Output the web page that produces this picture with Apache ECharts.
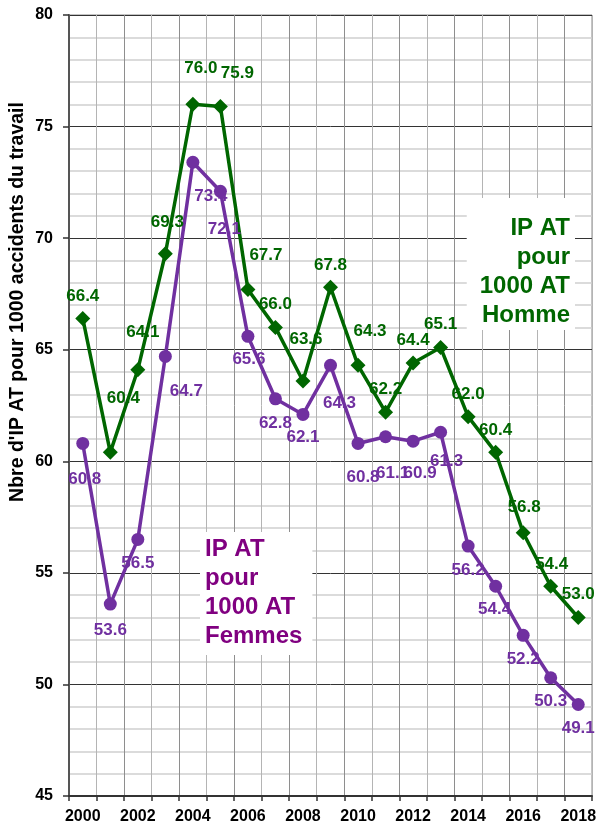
<!DOCTYPE html>
<html>
<head>
<meta charset="utf-8">
<title>IP AT pour 1000 AT</title>
<script src="https://cdn.jsdelivr.net/npm/echarts@6/dist/echarts.min.js"></script>
<style>
  html, body { margin: 0; padding: 0; background: #fff; }
  #mainChart { width: 601px; height: 826px; }
</style>
</head>
<body>
<div id="mainChart"></div>
<script>
// annees 2000 -> 2018
var years = ['2000', '2001', '2002', '2003', '2004', '2005', '2006', '2007', '2008', '2009',
  '2010', '2011', '2012', '2013', '2014', '2015', '2016', '2017', '2018'];
var hommeValues = [66.4, 60.4, 64.1, 69.3, 76.0, 75.9, 67.7, 66.0, 63.6, 67.8,
  64.3, 62.2, 64.4, 65.1, 62.0, 60.4, 56.8, 54.4, 53.0];
var femmesValues = [60.8, 53.6, 56.5, 64.7, 73.4, 72.1, 65.6, 62.8, 62.1, 64.3,
  60.8, 61.1, 60.9, 61.3, 56.2, 54.4, 52.2, 50.3, 49.1];
var yTicks = [45, 50, 55, 60, 65, 70, 75, 80];

// decalage des etiquettes (px) par rapport au point
var hommeLabelShift = [[0, -22], [13, -54], [5, -37], [2, -31], [8, -36], [17, -33], [18, -34], [0, -23], [3, -42], [0, -22],
  [12, -34], [0, -23], [0, -23], [0, -23], [0, -22], [0, -22], [1, -25], [1, -22], [0, -23]];
var femmesLabelShift = [[2, 36], [0, 26], [0, 24], [21, 35], [18, 34], [4, 38], [1, 23], [0, 25], [0, 23], [9, 38],
  [5, 34], [7, 37], [7, 32], [6, 29], [0, 24], [-1, 23], [0, 24], [0, 24], [0, 24]];

var green = '#006600';
var purple = '#7030a0';
var font = '"Liberation Sans", Arial, sans-serif';

function withLabels(values, shifts) {
  var result = [];
  for (var i = 0; i < values.length; i++) {
    result.push({
      value: values[i],
      label: {offset: shifts[i]}
    });
  }
  return result;
}

var option = {
  animation: false,
  backgroundColor: '#fff',
  textStyle: {fontFamily: font},
  grid: {
    left: 69,
    right: 9,
    top: 15,
    bottom: 30,
    show: true,
    borderColor: '#888',
    borderWidth: 1
  },
  xAxis: {
    type: 'category',
    data: years,
    boundaryGap: true,
    axisLine: {lineStyle: {color: '#333', width: 2}},
    axisTick: {show: true, interval: 0, length: 5, lineStyle: {color: '#333', width: 1.5}},
    axisLabel: {
      interval: 1,
      margin: 13,
      color: '#000',
      fontSize: 16,
      fontWeight: 'bold',
      fontFamily: font
    },
    splitLine: {
      show: true,
      interval: 0,
      lineStyle: {color: ['#8e8e8e', '#b4b4b4'], width: 1}
    }
  },
  yAxis: {
    type: 'value',
    min: yTicks[0],
    max: yTicks[yTicks.length - 1],
    interval: 5,
    axisLine: {show: true, lineStyle: {color: '#555', width: 2}},
    axisTick: {show: true, length: 6, lineStyle: {color: '#333', width: 1.5}},
    axisLabel: {
      margin: 16,
      color: '#000',
      fontSize: 16,
      fontWeight: 'bold',
      fontFamily: font
    },
    splitLine: {lineStyle: {color: '#333', width: 1}},
    minorTick: {show: false, splitNumber: 5},
    minorSplitLine: {show: true, lineStyle: {color: '#cfcfcf', width: 1.5}}
  },
  graphic: [
    {
      type: 'text',
      x: 18,
      y: 302,
      rotation: Math.PI / 2,
      style: {
        text: "Nbre d'IP AT pour 1000 accidents du travail",
        font: 'bold 19.5px ' + font,
        fill: '#000',
        align: 'center',
        verticalAlign: 'middle'
      }
    },
    {
      type: 'text',
      x: 575,
      y: 198,
      z: 100,
      style: {
        text: 'IP AT\npour\n1000 AT\nHomme',
        font: 'bold 24px ' + font,
        fill: green,
        align: 'right',
        verticalAlign: 'top',
        lineHeight: 29,
        backgroundColor: '#fff',
        padding: [16, 5, 0, 13]
      }
    },
    {
      type: 'text',
      x: 200,
      y: 532,
      z: 100,
      style: {
        text: 'IP AT\npour\n1000 AT\nFemmes',
        font: 'bold 24px ' + font,
        fill: '#800080',
        align: 'left',
        verticalAlign: 'top',
        lineHeight: 29,
        backgroundColor: '#fff',
        padding: [3, 10, 4, 5]
      }
    }
  ],
  series: [
    {
      name: 'Homme',
      type: 'line',
      data: withLabels(hommeValues, hommeLabelShift),
      symbol: 'diamond',
      symbolSize: 15,
      lineStyle: {color: green, width: 3.5},
      itemStyle: {color: green},
      label: {
        show: true,
        position: 'inside',
        color: green,
        fontSize: 17,
        fontWeight: 'bold',
        fontFamily: font,
        formatter: function (p) { return p.value.toFixed(1); }
      }
    },
    {
      name: 'Femmes',
      type: 'line',
      data: withLabels(femmesValues, femmesLabelShift),
      symbol: 'circle',
      symbolSize: 13,
      lineStyle: {color: purple, width: 3.5},
      itemStyle: {color: purple},
      label: {
        show: true,
        position: 'inside',
        color: purple,
        fontSize: 17,
        fontWeight: 'bold',
        fontFamily: font,
        formatter: function (p) { return p.value.toFixed(1); }
      }
    }
  ]
};

var myChart = echarts.init(document.getElementById('mainChart'));
myChart.setOption(option);
window.onresize = function () {
  myChart.resize();
};
</script>
</body>
</html>
